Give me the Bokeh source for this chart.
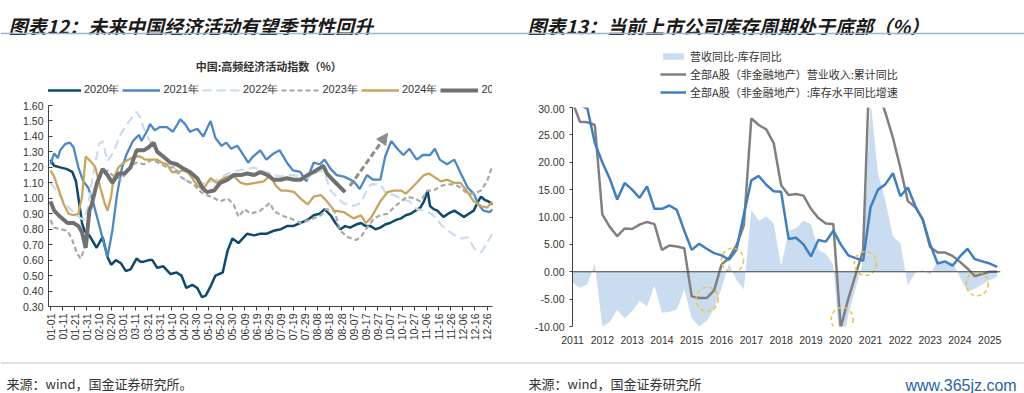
import math
from bokeh.plotting import figure
from bokeh.models import (Range1d, FixedTicker, Legend, LegendItem, Label, Span,
                          Arrow, NormalHead, NumeralTickFormatter)
from bokeh.layouts import column, row
from bokeh.embed import file_html
from bokeh.resources import INLINE

# ---------------- left chart data (day of year -> index) ----------------
left_tick_labels = ["01-01", "01-11", "01-21", "01-31", "02-10", "02-20", "03-01", "03-11",
                    "03-21", "03-31", "04-10", "04-20", "04-30", "05-10", "05-20", "05-30",
                    "06-09", "06-19", "06-29", "07-09", "07-19", "07-29", "08-08", "08-18",
                    "08-28", "09-07", "09-17", "09-27", "10-07", "10-17", "10-27", "11-06",
                    "11-16", "11-26", "12-06", "12-16", "12-26"]
left_y_ticks = [0.30, 0.40, 0.50, 0.60, 0.70, 0.80, 0.90, 1.00, 1.10, 1.20, 1.30, 1.40, 1.50, 1.60]

s2020_day = [0, 3, 8, 13, 18, 21, 24, 26, 28, 32, 38, 43, 47, 50, 54, 58, 62, 66, 71, 74, 77, 81, 84,
             88, 93, 99, 104, 108, 112, 117, 121, 125, 128, 132, 136, 142, 146, 150, 155, 162, 168,
             173, 178, 184, 190, 195, 200, 206, 212, 217, 222, 226, 231, 235, 239, 243, 247, 252,
             256, 260, 264, 268, 272, 276, 280, 285, 289, 293, 297, 301, 305, 308, 311, 313, 316,
             319, 324, 328, 333, 337, 341, 345, 349, 352, 355, 358, 361, 365]
s2020_val = [1.25, 1.21, 1.20, 1.19, 1.17, 1.11, 0.95, 0.84, 0.79, 0.76, 0.68, 0.75, 0.62, 0.57, 0.60,
             0.58, 0.53, 0.54, 0.61, 0.59, 0.59, 0.60, 0.60, 0.55, 0.56, 0.51, 0.52, 0.50, 0.42, 0.44,
             0.42, 0.36, 0.37, 0.43, 0.50, 0.52, 0.66, 0.74, 0.71, 0.77, 0.76, 0.77, 0.77, 0.79, 0.80,
             0.82, 0.82, 0.84, 0.86, 0.89, 0.90, 0.93, 0.89, 0.84, 0.80, 0.82, 0.81, 0.83, 0.84, 0.82,
             0.82, 0.80, 0.81, 0.83, 0.84, 0.86, 0.87, 0.89, 0.90, 0.92, 0.94, 0.98, 1.05, 0.95, 0.93,
             0.92, 0.88, 0.90, 0.92, 0.90, 0.88, 0.90, 0.92, 0.97, 1.01, 0.99, 0.98, 0.96]

s2021_day = [0, 3, 6, 8, 12, 16, 19, 23, 27, 31, 35, 40, 45, 47, 51, 55, 59, 63, 68, 73, 75, 80, 82,
             86, 90, 96, 101, 107, 111, 115, 121, 126, 132, 136, 141, 145, 149, 154, 159, 163, 167,
             173, 178, 184, 189, 195, 200, 206, 211, 217, 222, 226, 231, 236, 242, 250, 255, 261,
             266, 272, 276, 281, 286, 291, 296, 302, 307, 313, 317, 321, 327, 333, 339, 344, 349,
             353, 357, 362, 365]
s2021_val = [1.22, 1.29, 1.26, 1.31, 1.35, 1.36, 1.33, 1.20, 1.11, 1.07, 0.98, 0.83, 0.68, 0.62, 0.79,
             1.03, 1.20, 1.29, 1.37, 1.41, 1.37, 1.44, 1.48, 1.44, 1.46, 1.46, 1.43, 1.51, 1.48, 1.43,
             1.45, 1.40, 1.50, 1.39, 1.34, 1.36, 1.32, 1.34, 1.28, 1.23, 1.27, 1.31, 1.25, 1.29, 1.31,
             1.23, 1.18, 1.17, 1.11, 1.23, 1.22, 1.25, 1.19, 1.15, 1.14, 1.11, 1.06, 1.15, 1.12, 1.12,
             1.27, 1.37, 1.32, 1.28, 1.32, 1.25, 1.28, 1.28, 1.32, 1.25, 1.22, 1.25, 1.15, 1.07, 1.03,
             0.96, 0.92, 0.91, 0.93]

s2022_day = [0, 5, 10, 15, 20, 25, 28, 31, 35, 40, 43, 47, 52, 57, 62, 67, 71, 74, 77, 80, 85, 90, 95,
             101, 106, 111, 117, 123, 128, 134, 140, 146, 151, 156, 162, 168, 173, 179, 184, 190,
             195, 200, 206, 212, 217, 223, 227, 231, 236, 241, 246, 250, 256, 260, 264, 268, 272,
             276, 280, 286, 291, 296, 302, 308, 314, 318, 322, 328, 335, 340, 344, 350, 355, 360, 365]
s2022_val = [1.10, 1.05, 0.99, 0.94, 0.90, 0.87, 0.86, 0.95, 1.15, 1.35, 1.37, 1.24, 1.30, 1.40, 1.47,
             1.52, 1.56, 1.52, 1.45, 1.40, 1.33, 1.30, 1.26, 1.20, 1.17, 1.12, 1.10, 1.09, 1.10, 1.11,
             1.13, 1.16, 1.17, 1.18, 1.19, 1.20, 1.18, 1.17, 1.15, 1.14, 1.15, 1.15, 1.14, 1.13, 1.16,
             1.18, 1.14, 1.05, 1.01, 0.97, 0.96, 0.95, 0.97, 1.04, 1.09, 1.09, 1.09, 1.04, 1.03, 1.01,
             0.99, 0.98, 0.93, 0.92, 0.90, 0.87, 0.83, 0.79, 0.75, 0.74, 0.75, 0.67, 0.65, 0.71, 0.78]

s2023_day = [0, 3, 8, 14, 18, 22, 25, 29, 33, 37, 41, 47, 51, 58, 65, 70, 77, 84, 89, 96, 102, 107,
             113, 118, 124, 129, 135, 140, 146, 151, 155, 160, 165, 173, 181, 184, 190, 198, 206,
             214, 223, 227, 234, 239, 245, 252, 256, 261, 267, 272, 278, 283, 289, 294, 300, 305,
             311, 316, 322, 327, 333, 338, 344, 349, 355, 360, 364]
s2023_val = [0.86, 0.81, 0.80, 0.79, 0.73, 0.64, 0.61, 0.70, 0.92, 1.07, 1.15, 1.18, 1.15, 1.12, 1.19,
             1.23, 1.22, 1.25, 1.23, 1.20, 1.20, 1.14, 1.11, 1.09, 1.04, 1.02, 1.00, 0.98, 1.00, 0.96,
             0.88, 0.93, 0.90, 0.92, 0.97, 0.92, 0.89, 0.87, 0.84, 0.86, 0.89, 0.93, 0.92, 0.79, 0.75,
             0.73, 0.75, 0.81, 0.87, 0.89, 0.90, 0.94, 0.98, 1.01, 1.00, 0.98, 1.05, 1.05, 1.08, 1.09,
             1.09, 1.07, 1.03, 1.03, 1.05, 1.11, 1.20]

s2024_day = [0, 3, 7, 11, 15, 19, 23, 26, 29, 33, 37, 41, 45, 47, 50, 52, 56, 62, 69, 74, 78, 83, 88,
             92, 96, 100, 105, 109, 113, 117, 121, 126, 132, 137, 143, 150, 157, 162, 169, 176, 181,
             186, 190, 195, 201, 206, 212, 217, 223, 228, 234, 242, 250, 256, 260, 264, 267, 272,
             278, 283, 289, 293, 297, 302, 308, 312, 316, 322, 327, 333, 338, 344, 349, 355, 360, 365]
s2024_val = [1.18, 1.14, 1.05, 0.96, 0.90, 0.89, 0.90, 1.01, 1.27, 1.24, 1.20, 1.07, 0.96, 0.92, 1.01,
             1.13, 1.20, 1.24, 1.27, 1.27, 1.25, 1.25, 1.25, 1.23, 1.22, 1.17, 1.17, 1.18, 1.17, 1.13,
             1.08, 1.06, 1.13, 1.10, 1.13, 1.15, 1.10, 1.09, 1.10, 1.11, 1.15, 1.08, 1.05, 1.05, 1.04,
             1.00, 0.96, 1.01, 1.02, 0.98, 0.92, 0.91, 0.87, 0.89, 0.84, 0.87, 0.91, 0.98, 1.04, 1.05,
             1.05, 1.03, 1.06, 1.10, 1.15, 1.16, 1.14, 1.11, 1.12, 1.10, 1.10, 1.04, 0.98, 0.95, 0.94,
             0.98]

s2025_day = [0, 3, 8, 14, 19, 23, 26, 29, 30, 32, 34, 38, 43, 47, 51, 56, 61, 66, 71, 77, 81, 85, 88,
             93, 99, 104, 110, 115, 121, 126, 129, 135, 140, 146, 151, 157, 162, 168, 173, 179, 184,
             190, 195, 201, 206, 212, 217, 223, 225, 228, 234, 239, 243]
s2025_val = [0.98, 0.92, 0.88, 0.84, 0.84, 0.82, 0.78, 0.68, 0.75, 0.92, 0.96, 1.09, 1.19, 1.15, 1.10,
             1.16, 1.16, 1.20, 1.31, 1.31, 1.33, 1.36, 1.30, 1.27, 1.23, 1.22, 1.19, 1.17, 1.13, 1.06,
             1.04, 1.05, 1.10, 1.12, 1.15, 1.15, 1.16, 1.15, 1.17, 1.15, 1.12, 1.12, 1.13, 1.12, 1.12,
             1.15, 1.17, 1.20, 1.21, 1.16, 1.11, 1.07, 1.04]

arrow_start = (247, 1.08)
arrow_end = (278, 1.42)

# ---------------- right chart data (quarterly, 2011Q1 ...) ----------------
right_years = [2011, 2012, 2013, 2014, 2015, 2016, 2017, 2018, 2019, 2020, 2021, 2022, 2023, 2024, 2025]
right_y_ticks = [-10, -5, 0, 5, 10, 15, 20, 25, 30]

revenue_yoy = [31.0, 27.4, 27.3, 26.8, 10.5, 8.2, 6.5, 7.9, 7.8, 8.6, 9.1, 8.7, 4.0, 4.8, 4.6, 4.3,
               -4.5, -4.8, -4.8, -3.4, 1.3, 2.5, 4.8, 8.5, 28.0, 26.8, 26.0, 23.5, 15.8, 14.0, 14.2,
               13.9, 11.5, 9.8, 8.8, 8.7, -10.2, -5.0, -0.5, 3.9, 43.0, 33.0, 29.0, 24.5, 19.0, 12.9,
               11.8, 9.6, 4.5, 3.5, 3.5, 2.9, 1.8, 0.6, -0.8, -0.4, 0.0, 0.0]
inventory_yoy = [33.0, 30.5, 29.8, 23.5, 20.0, 17.0, 13.2, 16.2, 15.0, 13.5, 15.6, 11.5, 11.5, 12.1,
                 11.3, 7.5, 4.0, 5.1, 4.2, 3.4, 3.0, 2.2, 4.0, 10.5, 16.7, 17.5, 15.9, 14.7, 14.6, 6.0,
                 6.2, 5.0, 2.8, 5.8, 5.5, 7.5, 5.0, 3.0, 2.5, 2.0, 11.8, 15.0, 16.0, 18.0, 13.8, 15.4,
                 12.0, 9.5, 5.0, 1.5, 1.9, 1.1, 2.8, 4.2, 2.3, 1.9, 1.5, 0.9]
spread = [-2.0, -2.9, -2.3, 1.4, -10.0, -9.2, -7.0, -8.5, -7.2, -5.3, -6.3, -2.5, -7.5, -7.3, -6.9,
          -3.2, -8.5, -10.0, -9.0, -6.8, -3.0, 1.5, -1.5, -3.2, 11.3, 9.3, 10.1, 8.8, 1.0, 7.5, 8.0,
          9.3, 8.7, 4.0, 3.3, 1.2, -15.2, -8.0, -3.0, 1.9, 31.2, 18.0, 13.0, 6.5, 5.2, -2.5, -0.2,
          0.3, -0.5, 1.9, 1.6, 1.8, -1.0, -3.6, -3.1, -2.3, -1.5, -0.9]
circle_x = [2015.52, 2016.37, 2020.05, 2020.83, 2024.58]
circle_y = [-5.0, 2.1, -8.7, 1.5, -2.2]

quarter_x = [right_years[0] + 0.25 * i for i in range(len(revenue_yoy))]

TXT = "#333333"
AXIS = "#404040"
CJK = "Noto Sans CJK SC"
LAT = "Liberation Sans"


def blank(w, h):
    f = figure(width=w, height=h, x_range=Range1d(0, w), y_range=Range1d(0, h),
               output_backend="svg", toolbar_location=None,
               x_axis_location=None, y_axis_location=None, min_border=0)
    f.outline_line_color = None
    f.grid.visible = False
    return f


# ---------------- header (titles + rule), page y 0..35 ----------------
header = blank(1024, 35)
for hx, htxt in [(8, "图表12：未来中国经济活动有望季节性回升"), (527, "图表13：当前上市公司库存周期处于底部（%）")]:
    header.add_layout(Label(x=hx, y=10, text=htxt, text_font=CJK, text_font_style="bold italic",
                            text_font_size="19px", text_color="#1a1a1a", text_baseline="alphabetic"))
header.add_layout(Span(location=2, dimension="width", line_color="#9fb3c6", line_width=1.5))

# ---------------- left chart ----------------
styles = [
    ("2020年", s2020_day, s2020_val, dict(line_color="#0c4a6e", line_width=2.5)),
    ("2021年", s2021_day, s2021_val, dict(line_color="#4a88c8", line_width=2.3)),
    ("2022年", s2022_day, s2022_val, dict(line_color="#c8dbef", line_width=2.2, line_dash="9 5")),
    ("2023年", s2023_day, s2023_val, dict(line_color="#a8a8a8", line_width=2.2, line_dash="5 3")),
    ("2024年", s2024_day, s2024_val, dict(line_color="#c8a45e", line_width=2.3)),
    ("2025年", s2025_day, s2025_val, dict(line_color="#707070", line_width=4)),
]

band_l = blank(512, 65)          # page y 35..100
band_l.add_layout(Label(x=254, y=35, text="中国:高频经济活动指数（%）", text_font=CJK,
                        text_font_style="bold", text_font_size="11px", text_color=TXT,
                        text_align="center", text_baseline="middle"))
items_l = []
for name, xs, ys, st in styles:
    r = band_l.line(xs, ys, visible=False, **st)
    items_l.append(LegendItem(label=name, renderers=[r]))
band_l.add_layout(Legend(items=items_l, orientation="horizontal", location=(-5, 3), glyph_width=38,
                         glyph_height=14, label_height=14, label_standoff=3, spacing=3, padding=0,
                         margin=0, border_line_color=None, background_fill_alpha=0,
                         inactive_fill_alpha=0,
                         label_text_font=LAT, label_text_font_size="11px", label_text_color=TXT))

pl = figure(width=512, height=258, x_range=Range1d(-1.65, 364.5), y_range=Range1d(0.3, 1.6),
            output_backend="svg", toolbar_location=None,
            min_border_left=48, min_border_right=20, min_border_top=5, min_border_bottom=52)
pl.outline_line_color = None
pl.grid.visible = False
for name, xs, ys, st in styles:
    pl.line(xs, ys, **st)

pl.add_layout(Arrow(x_start=arrow_start[0], y_start=arrow_start[1], x_end=arrow_end[0], y_end=arrow_end[1],
                    line_color="#8c8c8c", line_width=3, line_dash="6 3",
                    end=NormalHead(size=11, fill_color="#8c8c8c", line_color="#8c8c8c")))

pl.xaxis.ticker = FixedTicker(ticks=[10 * i for i in range(len(left_tick_labels))])
pl.xaxis.major_label_overrides = {10 * i: lab for i, lab in enumerate(left_tick_labels)}
pl.xaxis.major_label_orientation = math.pi / 2
pl.yaxis.ticker = FixedTicker(ticks=left_y_ticks)
pl.yaxis.formatter = NumeralTickFormatter(format="0.00")
for ax in (pl.xaxis, pl.yaxis):
    ax.axis_line_color = AXIS
    ax.major_tick_line_color = AXIS
    ax.minor_tick_line_color = None
    ax.major_label_text_font = LAT
    ax.major_label_text_font_size = "10.5px"
    ax.major_label_text_color = TXT
pl.xaxis.major_tick_in = 0
pl.xaxis.major_tick_out = 4
pl.xaxis.major_label_standoff = 3
pl.yaxis.major_tick_in = 4
pl.yaxis.major_tick_out = 0
pl.yaxis.major_label_standoff = 5

# ---------------- right chart ----------------
area_style = dict(fill_color="#c9dcf0", fill_alpha=1)
gray_style = dict(line_color="#808080", line_width=2.5)
blue_style = dict(line_color="#3d7fc1", line_width=2.5)

band_r = blank(512, 69)          # page y 35..104
la = band_r.varea(x=quarter_x, y1=0, y2=spread, visible=False, **area_style)
lg = band_r.line(quarter_x, revenue_yoy, visible=False, **gray_style)
lb = band_r.line(quarter_x, inventory_yoy, visible=False, **blue_style)
band_r.add_layout(Legend(items=[LegendItem(label="营收同比-库存同比", renderers=[la]),
                                LegendItem(label="全部A股（非金融地产）营业收入:累计同比", renderers=[lg]),
                                LegendItem(label="全部A股（非金融地产）:库存水平同比增速", renderers=[lb])],
                         location=(88, 4), glyph_width=26, glyph_height=8, label_height=14,
                         label_standoff=4, spacing=2, padding=0, margin=0, border_line_color=None,
                         background_fill_alpha=0, inactive_fill_alpha=0,
                         label_text_font=CJK, label_text_font_size="11px",
                         label_text_color=TXT))

pr = figure(width=512, height=254, x_range=Range1d(2011.0, 2025.36), y_range=Range1d(-10, 30),
            output_backend="svg", toolbar_location=None,
            min_border_left=60, min_border_right=24, min_border_top=3, min_border_bottom=32)
pr.outline_line_color = None
pr.grid.visible = False

pr.varea(x=quarter_x, y1=0, y2=spread, **area_style)
pr.add_layout(Span(location=0, dimension="width", line_color=AXIS, line_width=1.2))
pr.line(quarter_x, revenue_yoy, **gray_style)
pr.line(quarter_x, inventory_yoy, **blue_style)
pr.ellipse(x=circle_x, y=circle_y, width=22, height=24, width_units="screen", height_units="screen",
           fill_color=None, line_color="#f2c23c", line_width=1.5, line_dash="4 3")

pr.xaxis.ticker = FixedTicker(ticks=right_years)
pr.xaxis.major_label_overrides = {y: str(y) for y in right_years}
pr.xaxis.axis_line_color = None
pr.xaxis.major_tick_line_color = None
pr.xaxis.minor_tick_line_color = None
pr.xaxis.major_label_text_font = LAT
pr.xaxis.major_label_text_font_size = "10.5px"
pr.xaxis.major_label_text_color = TXT
pr.xaxis.major_label_standoff = 3

pr.yaxis.ticker = FixedTicker(ticks=right_y_ticks)
pr.yaxis.formatter = NumeralTickFormatter(format="0.00")
pr.yaxis.axis_line_color = AXIS
pr.yaxis.major_tick_line_color = AXIS
pr.yaxis.major_tick_in = 0
pr.yaxis.major_tick_out = 3
pr.yaxis.minor_tick_line_color = None
pr.yaxis.major_label_text_font = LAT
pr.yaxis.major_label_text_font_size = "10.5px"
pr.yaxis.major_label_text_color = TXT
pr.yaxis.major_label_standoff = 5

# ---------------- footer, page y 358..393 ----------------
footer = blank(1024, 35)
footer.add_layout(Span(location=30.5, dimension="width", line_color="#b3c4d4", line_width=1.2))
footer.add_layout(Label(x=6, y=10, text="来源：wind，国金证券研究所。", text_font=CJK,
                        text_font_size="13px", text_color=TXT, text_baseline="alphabetic"))
footer.add_layout(Label(x=528, y=10, text="来源：wind，国金证券研究所", text_font=CJK,
                        text_font_size="13px", text_color=TXT, text_baseline="alphabetic"))
footer.add_layout(Label(x=905, y=8, text="www.365jz.com", text_font=LAT,
                        text_font_size="16px", text_color="#2a62a8", text_baseline="alphabetic"))

layout = column(header, row(column(band_l, pl), column(band_r, pr)), footer)
open("out.html", "w").write(file_html(layout, INLINE))
